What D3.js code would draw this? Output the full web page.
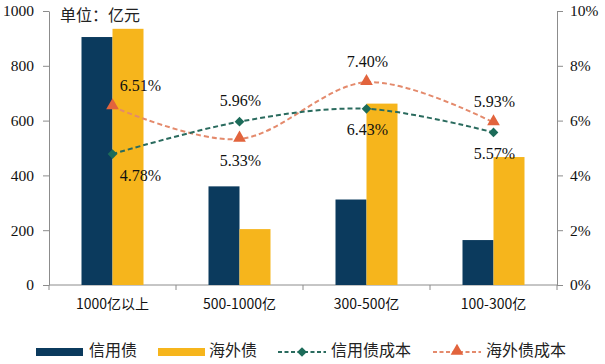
<!DOCTYPE html>
<html>
<head>
<meta charset="utf-8">
<script src="https://cdn.jsdelivr.net/npm/d3@7"></script>
<style>
  body { margin: 0; background: #fff; }
  svg { display: block; }
</style>
</head>
<body>
<div id="chart"></div>
<script>
// data
const categories = ["1000亿以上", "500-1000亿", "300-500亿", "100-300亿"];
const creditBond = [905, 360, 312, 164];     // 信用债, 亿元
const overseasBond = [935, 204, 662, 467];   // 海外债, 亿元
const creditCost = [4.78, 5.96, 6.43, 5.57];   // 信用债成本, %
const overseasCost = [6.51, 5.33, 7.40, 5.93]; // 海外债成本, %
const leftTicks = [0, 200, 400, 600, 800, 1000];
const rightTicks = [0, 2, 4, 6, 8, 10];

const width = 605, height = 364;
const margin = { top: 11, right: 48, bottom: 79, left: 49 };

const serif = "'Liberation Serif', 'Times New Roman', serif";
const cjk = "'Noto Sans CJK SC', sans-serif";

const navy = "#0b3a5d", gold = "#f6b51c";
const green = "#1c6b59", orange = "#e2643d";

const svg = d3.select("#chart").append("svg")
  .attr("width", width).attr("height", height)
  .attr("viewBox", [0, 0, width, height]);

const x = d3.scaleBand()
  .domain(categories)
  .range([margin.left, width - margin.right]);

const barW = 31;
const x1 = d3.scaleBand()
  .domain(["credit", "overseas"])
  .range([x.bandwidth() / 2 - barW, x.bandwidth() / 2 + barW]);

const yL = d3.scaleLinear().domain([0, 1000]).range([height - margin.bottom, margin.top]);
const yR = d3.scaleLinear().domain([0, 10]).range([height - margin.bottom, margin.top]);

// axes
function styleAxis(g) {
  g.selectAll(".domain").attr("stroke", "#8c8c8c");
  g.selectAll(".tick line").attr("stroke", "#8c8c8c");
  g.selectAll(".tick text")
    .attr("font-family", serif)
    .attr("font-size", 15.5)
    .attr("fill", "#111");
}

svg.append("g")
  .attr("transform", `translate(${margin.left},0)`)
  .call(d3.axisLeft(yL).tickValues(leftTicks).tickSize(6).tickSizeOuter(0).tickPadding(9)
    .tickFormat(d3.format("d")))
  .call(styleAxis);

svg.append("g")
  .attr("transform", `translate(${width - margin.right},0)`)
  .call(d3.axisRight(yR).tickValues(rightTicks).tickSize(6).tickSizeOuter(0).tickPadding(7)
    .tickFormat((d) => d + "%"))
  .call(styleAxis);

// bottom axis: line with ticks at category boundaries
const base = yL(0);
const gx = svg.append("g");
gx.append("line")
  .attr("x1", margin.left).attr("x2", width - margin.right)
  .attr("y1", base).attr("y2", base)
  .attr("stroke", "#8c8c8c");
gx.selectAll(".sep")
  .data(categories.map((c) => x(c)).concat([x.range()[1]]))
  .join("line")
  .attr("x1", (d) => d).attr("x2", (d) => d)
  .attr("y1", base).attr("y2", base + 5)
  .attr("stroke", "#8c8c8c");
gx.selectAll(".cat")
  .data(categories)
  .join("text")
  .attr("x", (d) => x(d) + x.bandwidth() / 2)
  .attr("y", base + 20)
  .attr("dominant-baseline", "middle")
  .attr("text-anchor", "middle")
  .attr("font-family", cjk)
  .attr("font-size", 14)
  .attr("fill", "#111")
  .text((d) => d);

// unit label
svg.append("text")
  .attr("x", 60).attr("y", 17)
  .attr("dominant-baseline", "middle")
  .attr("font-family", cjk)
  .attr("font-size", 16)
  .attr("fill", "#222")
  .text("单位：亿元");

// bars
const bars = svg.append("g");
categories.forEach((c, i) => {
  [["credit", creditBond[i], navy], ["overseas", overseasBond[i], gold]].forEach(([k, v, col]) => {
    bars.append("rect")
      .attr("x", x(c) + x1(k))
      .attr("width", x1.bandwidth())
      .attr("y", yL(v))
      .attr("height", base - yL(v))
      .attr("fill", col);
  });
});

// lines
const cx = (i) => x(categories[i]) + x.bandwidth() / 2;
const line = d3.line()
  .x((d, i) => cx(i))
  .y((d) => yR(d))
  .curve(d3.curveCardinal.tension(0));

svg.append("path")
  .datum(overseasCost)
  .attr("d", line)
  .attr("fill", "none")
  .attr("stroke", "#e48a6c")
  .attr("stroke-width", 2)
  .attr("stroke-dasharray", "5,3");

svg.append("path")
  .datum(creditCost)
  .attr("d", line)
  .attr("fill", "none")
  .attr("stroke", "#2a6b5e")
  .attr("stroke-width", 2)
  .attr("stroke-dasharray", "5,3");

const diamond = d3.symbol().type(d3.symbolDiamond2).size(60);
const triangle = d3.symbol().type(d3.symbolTriangle).size(70);

svg.append("g").selectAll("path")
  .data(creditCost)
  .join("path")
  .attr("d", diamond)
  .attr("transform", (d, i) => `translate(${cx(i)},${yR(d)})`)
  .attr("fill", green);

svg.append("g").selectAll("path")
  .data(overseasCost)
  .join("path")
  .attr("d", triangle)
  .attr("transform", (d, i) => `translate(${cx(i)},${yR(d) - 1})`)
  .attr("fill", orange);

// value labels: higher series above its point, lower one below
function labels(values, other) {
  svg.append("g").selectAll("text")
    .data(values)
    .join("text")
    .attr("x", (d, i) => cx(i) + (i === 0 ? 28 : 1))
    .attr("y", (d, i) => yR(d) + (d > other[i] ? -19 : 23))
    .attr("dominant-baseline", "middle")
    .attr("text-anchor", "middle")
    .attr("font-family", serif)
    .attr("font-size", 16)
    .attr("fill", "#111")
    .text((d) => d.toFixed(2) + "%");
}
labels(creditCost, overseasCost);
labels(overseasCost, creditCost);

// legend
const ly = 352;
const lg = svg.append("g").attr("font-family", cjk).attr("font-size", 16).attr("fill", "#222");
lg.append("rect").attr("x", 36).attr("y", ly - 4).attr("width", 47).attr("height", 8).attr("fill", navy);
lg.append("text").attr("x", 89).attr("y", ly).attr("dominant-baseline", "middle").text("信用债");
lg.append("rect").attr("x", 158).attr("y", ly - 4).attr("width", 47).attr("height", 8).attr("fill", gold);
lg.append("text").attr("x", 209).attr("y", ly).attr("dominant-baseline", "middle").text("海外债");

lg.append("line").attr("x1", 278).attr("x2", 326).attr("y1", ly).attr("y2", ly)
  .attr("stroke", "#2a6b5e").attr("stroke-width", 2).attr("stroke-dasharray", "4,2.5");
lg.append("path").attr("d", diamond).attr("transform", `translate(302,${ly})`).attr("fill", green);
lg.append("text").attr("x", 331).attr("y", ly).attr("dominant-baseline", "middle").text("信用债成本");

lg.append("line").attr("x1", 433).attr("x2", 481).attr("y1", ly).attr("y2", ly)
  .attr("stroke", "#e48a6c").attr("stroke-width", 2).attr("stroke-dasharray", "4,2.5");
lg.append("path").attr("d", triangle).attr("transform", `translate(457,${ly - 1})`).attr("fill", orange);
lg.append("text").attr("x", 486).attr("y", ly).attr("dominant-baseline", "middle").text("海外债成本");
</script>
</body>
</html>
